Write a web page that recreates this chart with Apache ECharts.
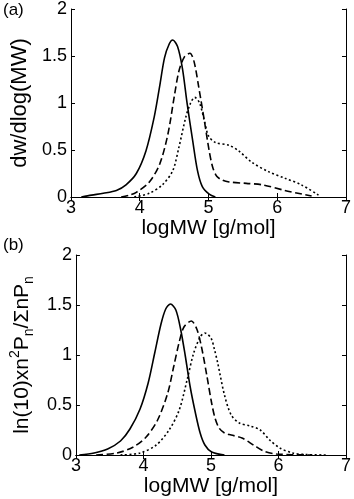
<!DOCTYPE html>
<html>
<head>
<meta charset="utf-8">
<script src="https://cdn.jsdelivr.net/npm/echarts@6/dist/echarts.min.js"></script>
<style>
  html, body { margin: 0; padding: 0; background: #fff; }
  #chart { width: 354px; height: 499px; }
</style>
</head>
<body>
<div id="chart"></div>
<script>
// x ticks (logMW) and y ticks
const xTicks = [3, 4, 5, 6, 7]
const yTicks = [0, 0.5, 1, 1.5, 2]

// panel (a): dw/dlog(MW)
const aSolid = [[3.15,0],[3.3,0.02],[3.47,0.04],[3.66,0.07],[3.8,0.13],[3.95,0.25],[4.09,0.49],[4.21,0.85],[4.29,1.18],[4.36,1.48],[4.43,1.63],[4.48,1.67],[4.55,1.6],[4.62,1.37],[4.69,0.99],[4.77,0.6],[4.84,0.28],[4.91,0.11],[5.01,0.03],[5.1,0]]
const aDashed = [[3.73,0],[3.85,0.02],[3.95,0.05],[4.14,0.16],[4.29,0.35],[4.41,0.67],[4.5,1.06],[4.57,1.34],[4.65,1.49],[4.73,1.53],[4.79,1.44],[4.86,1.16],[4.94,0.81],[5.01,0.49],[5.06,0.32],[5.12,0.22],[5.2,0.18],[5.3,0.16],[5.55,0.145],[5.78,0.13],[6.11,0.07],[6.3,0.04],[6.5,0.01]]
const aDotted = [[3.92,0],[4.14,0.04],[4.33,0.13],[4.48,0.28],[4.57,0.53],[4.67,0.85],[4.74,1.0],[4.8,1.06],[4.87,1.0],[4.94,0.81],[5.0,0.65],[5.1,0.58],[5.3,0.55],[5.44,0.49],[5.63,0.37],[5.87,0.27],[6.11,0.2],[6.35,0.13],[6.6,0.02]]

// panel (b): ln(10) x n^2 Pn / sum nPn
const bSolid = [[3.05,0],[3.27,0.02],[3.47,0.06],[3.66,0.14],[3.8,0.26],[3.95,0.46],[4.07,0.72],[4.17,1.03],[4.26,1.31],[4.33,1.46],[4.4,1.51],[4.48,1.45],[4.55,1.26],[4.62,0.99],[4.69,0.69],[4.77,0.42],[4.84,0.22],[4.91,0.1],[5.01,0.03],[5.2,0]]
const bDashed = [[3.3,0],[3.61,0.02],[3.85,0.08],[4.04,0.18],[4.21,0.35],[4.36,0.62],[4.45,0.89],[4.53,1.13],[4.6,1.28],[4.71,1.34],[4.79,1.26],[4.86,1.08],[4.94,0.79],[5.01,0.52],[5.06,0.37],[5.12,0.27],[5.2,0.22],[5.3,0.2],[5.46,0.17],[5.63,0.1],[5.78,0.04],[5.97,0.01],[6.5,0]]
const bDotted = [[3.66,0],[3.95,0.02],[4.19,0.1],[4.38,0.25],[4.53,0.45],[4.65,0.76],[4.74,1.01],[4.84,1.18],[4.91,1.22],[5.0,1.17],[5.05,1.06],[5.1,0.92],[5.2,0.6],[5.3,0.4],[5.42,0.32],[5.58,0.29],[5.73,0.25],[5.87,0.15],[6.02,0.07],[6.21,0.02],[6.4,0.005],[6.7,0]]

const FONT = '"Liberation Sans", Arial, sans-serif'
const black = '#000'

function xAxisFor(gridIndex, name, nameGap) {
  return [{
    gridIndex, type: 'value', min: xTicks[0], max: xTicks[xTicks.length - 1], interval: 1,
    name, nameLocation: 'middle', nameGap,
    nameTextStyle: { fontFamily: FONT, fontSize: 21, color: black },
    axisLine: { lineStyle: { color: black, width: 1 } },
    axisTick: { inside: true, length: 4, lineStyle: { color: black } },
    axisLabel: { fontFamily: FONT, fontSize: 18, color: black, margin: 2 },
    splitLine: { show: false }
  }, {
    gridIndex, type: 'value', position: 'top', min: xTicks[0], max: xTicks[xTicks.length - 1], interval: 1,
    axisLine: { lineStyle: { color: black, width: 1 } },
    axisTick: { inside: true, length: 4, lineStyle: { color: black } },
    axisLabel: { show: false },
    splitLine: { show: false }
  }]
}

function yAxisFor(gridIndex, name, nameGap, nameTextStyle) {
  return [{
    gridIndex, type: 'value', min: yTicks[0], max: yTicks[yTicks.length - 1], interval: 0.5,
    name, nameLocation: 'middle', nameGap, nameRotate: 90,
    nameTextStyle,
    axisLine: { show: true, lineStyle: { color: black, width: 1 } },
    axisTick: { show: true, inside: true, length: 4, lineStyle: { color: black } },
    axisLabel: { fontFamily: FONT, fontSize: 18, color: black, margin: 4 },
    splitLine: { show: false }
  }, {
    gridIndex, type: 'value', position: 'right', min: yTicks[0], max: yTicks[yTicks.length - 1], interval: 0.5,
    axisLine: { show: true, lineStyle: { color: black, width: 1 } },
    axisTick: { show: true, inside: true, length: 4, lineStyle: { color: black } },
    axisLabel: { show: false },
    splitLine: { show: false }
  }]
}

function line(data, type, xAxisIndex, yAxisIndex) {
  return {
    type: 'line', data, xAxisIndex, yAxisIndex,
    smooth: 0.3, showSymbol: false, symbol: 'none', silent: true,
    lineStyle: { color: black, width: 1.6, type }
  }
}

const chart = echarts.init(document.getElementById('chart'))
chart.setOption({
  animation: false,
  backgroundColor: '#fff',
  grid: [
    { left: 71, right: 6, top: 7, height: 190 },
    { left: 71, right: 6, top: 255, height: 200 }
  ],
  xAxis: [...xAxisFor(0, 'logMW [g/mol]', 19), ...xAxisFor(1, 'logMW [g/mol]', 15)],
  yAxis: [
    ...yAxisFor(0, 'dw/dlog(MW)', 31, { fontFamily: FONT, fontSize: 22, color: black }),
    ...yAxisFor(1, 'ln(10)xn{sup|2}P{sub|n}/ΣnP{sub|n}', 35, {
      fontFamily: FONT, fontSize: 21, color: black, lineHeight: 28,
      rich: {
        sup: { fontFamily: FONT, fontSize: 14, color: black, verticalAlign: 'top', lineHeight: 14 },
        sub: { fontFamily: FONT, fontSize: 14, color: black, verticalAlign: 'bottom', lineHeight: 14 }
      }
    })
  ],
  graphic: [
    { type: 'text', left: 3, top: 2, style: { text: '(a)', fontFamily: FONT, fontSize: 17, fill: black } },
    { type: 'text', left: 3, top: 237, style: { text: '(b)', fontFamily: FONT, fontSize: 17, fill: black } }
  ],
  series: [
    line(aSolid, 'solid', 0, 0),
    line(aDashed, [7, 3.5], 0, 0),
    line(aDotted, [2, 2.5], 0, 0),
    line(bSolid, 'solid', 2, 2),
    line(bDashed, [7, 3.5], 2, 2),
    line(bDotted, [2, 2.5], 2, 2)
  ]
})
</script>
</body>
</html>
